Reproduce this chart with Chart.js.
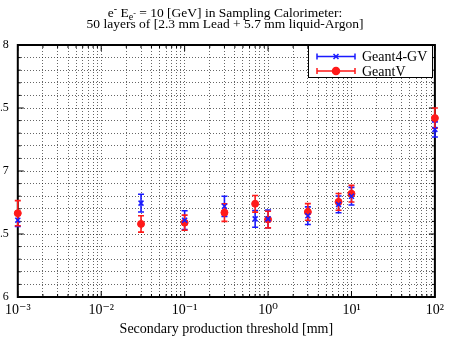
<!DOCTYPE html>
<html>
<head>
<meta charset="utf-8">
<script src="https://cdn.jsdelivr.net/npm/chart.js@4.4.0/dist/chart.umd.min.js"></script>
<style>
  html, body { margin: 0; padding: 0; background: #fff; }
  canvas { display: block; }
</style>
</head>
<body>
<canvas id="graficaCalorimetro" width="449" height="342"></canvas>
<script>
// ─────────────────────────────────────────
// DATOS
// ─────────────────────────────────────────

const umbrales      = [0.001, 0.03, 0.1, 0.3, 0.7, 1, 3, 7, 10, 100];
const geant4gv      = [6.61, 6.745, 6.61, 6.72, 6.62, 6.62, 6.645, 6.735, 6.80, 7.33];
const geant4gvError = [0.05, 0.07, 0.075, 0.08, 0.066, 0.07, 0.07, 0.066, 0.07, 0.06];
const geantv        = [6.665, 6.58, 6.59, 6.67, 6.74, 6.615, 6.675, 6.755, 6.82, 7.42];
const geantvError   = [0.1, 0.065, 0.06, 0.07, 0.066, 0.066, 0.066, 0.066, 0.066, 0.08];

const decadasX   = [0.001, 0.01, 0.1, 1, 10, 100];
const etiquetasX = ["10⁻³", "10⁻²", "10⁻¹", "10⁰", "10¹", "10²"];
const marcasY    = [6, 6.5, 7, 7.5, 8];
const etiquetasY = ["6", "6.5", "7", "7.5", "8"];

const SERIF = "'Liberation Serif', 'DejaVu Serif', serif";
const AZUL  = "#1a1aff";
const ROJO  = "#ff1a1a";
const REJILLA = "rgba(0,0,0,0.6)";

// ─────────────────────────────────────────
// PLUGINS
// ─────────────────────────────────────────

// marco + marcas interiores
const marco = {
  id: "marco",
  beforeDatasetsDraw(chart) {
    const { ctx, chartArea: a, scales: { x, y } } = chart;
    ctx.save();
    ctx.strokeStyle = "#000";
    ctx.lineWidth = 1;
    ctx.beginPath();
    x.ticks.forEach(t => {
      const px = x.getPixelForValue(t.value);
      const largo = decadasX.includes(t.value) ? 6 : 3;
      ctx.moveTo(px, a.bottom); ctx.lineTo(px, a.bottom - largo);
      ctx.moveTo(px, a.top);    ctx.lineTo(px, a.top + largo);
    });
    y.ticks.forEach(t => {
      const py = y.getPixelForValue(t.value);
      const largo = Math.abs(t.value * 2 - Math.round(t.value * 2)) < 1e-6 ? 6 : 3;
      ctx.moveTo(a.left, py);  ctx.lineTo(a.left + largo, py);
      ctx.moveTo(a.right, py); ctx.lineTo(a.right - largo, py);
    });
    ctx.stroke();
    ctx.lineWidth = 2;
    ctx.strokeRect(a.left, a.top, a.right - a.left, a.bottom - a.top);
    ctx.restore();
  }
};

const barrasError = {
  id: "barrasError",
  beforeDatasetsDraw(chart) {
    const { ctx, scales: { x, y } } = chart;
    chart.data.datasets.forEach(ds => {
      ctx.save();
      ctx.strokeStyle = ds.borderColor;
      ctx.lineWidth = 1.6;
      ds.data.forEach(p => {
        const px = x.getPixelForValue(p.x);
        const y1 = y.getPixelForValue(p.y - p.err);
        const y2 = y.getPixelForValue(p.y + p.err);
        ctx.beginPath();
        ctx.moveTo(px, y1); ctx.lineTo(px, y2);
        ctx.moveTo(px - 3, y1); ctx.lineTo(px + 3, y1);
        ctx.moveTo(px - 3, y2); ctx.lineTo(px + 3, y2);
        ctx.stroke();
      });
      ctx.restore();
    });
  }
};

// título con sub/superíndices
const tituloRico = {
  id: "tituloRico",
  afterDraw(chart) {
    const { ctx, width } = chart;
    const trozos = [
      { t: "e", s: 13.5, dy: 0 },
      { t: "-", s: 10, dy: -5 },
      { t: " E", s: 13.5, dy: 0 },
      { t: "e", s: 10, dy: 3 },
      { t: "-", s: 8, dy: -1 },
      { t: " = 10 [GeV] in Sampling Calorimeter:", s: 13.5, dy: 0 }
    ];
    ctx.save();
    ctx.fillStyle = "#000";
    ctx.textBaseline = "alphabetic";
    let total = 0;
    trozos.forEach(tr => { ctx.font = tr.s + "px " + SERIF; tr.w = ctx.measureText(tr.t).width; total += tr.w; });
    let cx = 225 - total / 2;
    trozos.forEach(tr => {
      ctx.font = tr.s + "px " + SERIF;
      ctx.fillText(tr.t, cx, 16.5 + tr.dy);
      cx += tr.w;
    });
    ctx.font = "13.5px " + SERIF;
    ctx.textAlign = "center";
    ctx.fillText("50 layers of [2.3 mm Lead + 5.7 mm liquid-Argon]", 225, 28);
    ctx.restore();
  }
};

const leyenda = {
  id: "leyenda",
  afterDraw(chart) {
    const { ctx } = chart;
    const caja = { x: 308.5, y: 45.5, w: 124, h: 32 };
    ctx.save();
    ctx.fillStyle = "#fff";
    ctx.fillRect(caja.x, caja.y, caja.w, caja.h);
    ctx.strokeStyle = "#000";
    ctx.lineWidth = 1;
    ctx.strokeRect(caja.x, caja.y, caja.w, caja.h);

    chart.data.datasets.forEach((ds, i) => {
      const yy = 56.5 + i * 14.5;
      ctx.strokeStyle = ds.borderColor;
      ctx.lineWidth = 1.5;
      ctx.beginPath();
      ctx.moveTo(317, yy); ctx.lineTo(355, yy);
      ctx.moveTo(317, yy - 3); ctx.lineTo(317, yy + 3);
      ctx.moveTo(355, yy - 3); ctx.lineTo(355, yy + 3);
      ctx.stroke();
      ctx.fillStyle = ds.backgroundColor;
      Chart.helpers.drawPoint(ctx, {
        pointStyle: ds.pointStyle, radius: ds.pointRadius, borderWidth: ds.pointBorderWidth
      }, 336, yy);
      ctx.fillStyle = "#000";
      ctx.font = "14px " + SERIF;
      ctx.textBaseline = "middle";
      ctx.fillText(ds.label, 362, yy + 1);
    });
    ctx.restore();
  }
};

// ─────────────────────────────────────────
// GRÁFICA
// ─────────────────────────────────────────

const puntos = (vals, errs) => umbrales.map((u, i) => ({ x: u, y: vals[i], err: errs[i] }));

new Chart(document.getElementById("graficaCalorimetro"), {
  type: "scatter",
  data: {
    datasets: [
      {
        label: "Geant4-GV",
        data: puntos(geant4gv, geant4gvError),
        borderColor: AZUL,
        backgroundColor: AZUL,
        pointStyle: "crossRot",
        pointRadius: 3.5,
        pointBorderWidth: 1.5,
        clip: false
      },
      {
        label: "GeantV",
        data: puntos(geantv, geantvError),
        borderColor: ROJO,
        backgroundColor: ROJO,
        pointStyle: "circle",
        pointRadius: 3.5,
        pointBorderWidth: 1,
        clip: false
      }
    ]
  },
  options: {
    responsive: false,
    animation: false,
    layout: { padding: { top: 45, right: 11, bottom: 0, left: 0 } },
    plugins: {
      legend: { display: false },
      title: { display: false },
      tooltip: { enabled: false }
    },
    scales: {
      x: {
        type: "logarithmic",
        min: 0.001,
        max: 100,
        afterBuildTicks: scale => {
          const ticks = [];
          decadasX.forEach(d => {
            for (let m = 1; m <= 9; m++) {
              const v = m === 1 ? d : parseFloat((m * d).toPrecision(6));
              if (v <= 100) ticks.push({ value: v });
            }
          });
          scale.ticks = ticks;
        },
        afterFit: scale => { scale.height = 45; },
        grid: { color: REJILLA, lineWidth: 1, drawTicks: false },
        border: { display: false, dash: [1, 2] },
        ticks: {
          autoSkip: false,
          maxRotation: 0,
          padding: 5,
          color: "#000",
          font: { family: SERIF, size: 14 },
          callback: v => {
            const i = decadasX.indexOf(v);
            return i >= 0 ? etiquetasX[i] : "";
          }
        },
        title: {
          display: true,
          text: "Secondary production threshold [mm]",
          color: "#000",
          font: { family: SERIF, size: 14 },
          padding: { top: 0, bottom: 4 }
        }
      },
      y: {
        min: 6,
        max: 8,
        afterBuildTicks: scale => {
          const ticks = [];
          for (let i = 0; i <= 20; i++) ticks.push({ value: Math.round((6 + i / 10) * 10) / 10 });
          scale.ticks = ticks;
        },
        afterFit: scale => { scale.width = 17; },
        grid: { color: REJILLA, lineWidth: 1, drawTicks: false },
        border: { display: false, dash: [1, 2] },
        ticks: {
          autoSkip: false,
          padding: 9,
          color: "#000",
          font: { family: SERIF, size: 12 },
          callback: v => {
            const i = marcasY.findIndex(t => Math.abs(t - v) < 1e-6);
            return i >= 0 ? etiquetasY[i] : "";
          }
        }
      }
    }
  },
  plugins: [marco, barrasError, tituloRico, leyenda]
});
</script>
</body>
</html>
